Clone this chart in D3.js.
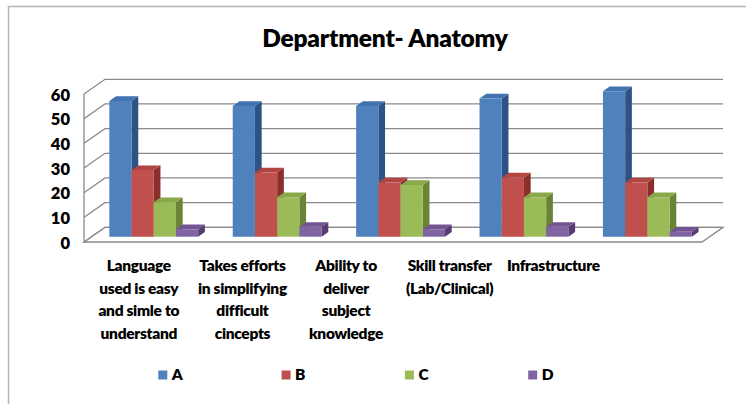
<!DOCTYPE html>
<html>
<head>
<meta charset="utf-8">
<script src="https://cdn.jsdelivr.net/npm/d3@7"></script>
<style>
  html, body { margin: 0; padding: 0; background: #fff; }
  svg { display: block; }
  text { font-family: Lato, "Open Sans", sans-serif; font-weight: 800; fill: #000; }
</style>
</head>
<body>
<svg id="chart" width="746" height="404"></svg>
<script>
// ---- data ----
const title = "Department- Anatomy";
const categories = [
  ["Language", "used is easy", "and simle to", "understand"],
  ["Takes efforts", "in simplifying", "difficult", "cincepts"],
  ["Ability to", "deliver", "subject", "knowledge"],
  ["Skill transfer", "(Lab/Clinical)"],
  ["Infrastructure"]
];
const seriesNames = ["A", "B", "C", "D"];
const seriesA = [55, 53, 53, 56, 59];
const seriesB = [27, 26, 22, 24, 22];
const seriesC = [14, 16, 21, 16, 16];
const seriesD = [3, 4, 3, 4, 2];
const yTicks = [0, 10, 20, 30, 40, 50, 60];

const series = [seriesA, seriesB, seriesC, seriesD];
const colors = [
  { front: "#4F81BD", top: "#4272B0", side: "#2E5283" },
  { front: "#C0504D", top: "#B24541", side: "#8B2F2C" },
  { front: "#9BBB59", top: "#89A84A", side: "#6A8436" },
  { front: "#8064A2", top: "#715593", side: "#553C73" }
];

// ---- layout ----
const W = 746, H = 404;
const svg = d3.select("#chart");
svg.append("rect").attr("width", W).attr("height", H).attr("fill", "#fff");

// frame (only top & left visible in reference)
svg.append("path").attr("d", `M8.5,${H} V6.5 H${W}`)
  .attr("fill", "none").attr("stroke", "#b4b4b4").attr("stroke-width", 1.5);

const DX = 21, DY = 14.7;          // full depth offset of the 3D box
const d0 = 0.36, d1 = 0.68;        // bar front/back depth fractions

const x = d3.scaleBand().domain(d3.range(categories.length))
  .range([84, 702]).paddingInner(0.28).paddingOuter(0.144);
const xs = d3.scaleBand().domain(d3.range(series.length))
  .range([0, x.bandwidth()]).padding(0);
const y = d3.scaleLinear().domain([0, 60]).range([242, 94]);

const P = (px, v, d) => [px + d * DX, y(v) - d * DY];
const line = d3.line();

const gridColor = "#8a8a8a";
const xL = x.range()[0], xR = x.range()[1];

// floor
svg.append("path")
  .attr("d", line([P(xL, 0, 0), P(xR, 0, 0), P(xR, 0, 1), P(xL, 0, 1)]) + "Z")
  .attr("fill", "#fff").attr("stroke", gridColor).attr("stroke-width", 1.3);

// gridlines on back wall + left wall
const grid = svg.append("g").attr("fill", "none").attr("stroke", gridColor).attr("stroke-width", 1.3);
yTicks.forEach(t => {
  grid.append("path").attr("d", line([P(xL, t, 0), P(xL, t, 1), P(xR, t, 1)]));
});
grid.append("path").attr("d", line([P(xL, 0, 0), P(xL, 60, 0)]));

// y-axis labels
svg.append("g").selectAll("text").data(yTicks).join("text")
  .attr("x", 70).attr("y", d => y(d) + 0.5)
  .attr("text-anchor", "end").attr("dominant-baseline", "central")
  .style("font-size", "16.5px").text(d => d);

// bars
const bars = svg.append("g");
categories.forEach((c, i) => {
  series.forEach((s, j) => {
    const v = s[i];
    const bx = x(i) + xs(j), bw = xs.bandwidth();
    const col = colors[j];
    const fTL = P(bx, v, d0), fTR = P(bx + bw, v, d0), fBR = P(bx + bw, 0, d0), fBL = P(bx, 0, d0);
    const bTL = P(bx, v, d1), bTR = P(bx + bw, v, d1), bBR = P(bx + bw, 0, d1);
    const g = bars.append("g");
    g.append("path").attr("d", line([fTR, bTR, bBR, fBR]) + "Z").attr("fill", col.side);
    g.append("path").attr("d", line([fTL, bTL, bTR, fTR]) + "Z").attr("fill", col.top);
    g.append("path").attr("d", line([fTL, fTR, fBR, fBL]) + "Z").attr("fill", col.front);
  });
});

// title
svg.append("text").attr("x", 385).attr("y", 47).attr("text-anchor", "middle")
  .style("font-size", "24.5px").style("letter-spacing", "-0.2px").text(title);

// category labels
const xl = d3.scalePoint().domain(d3.range(categories.length)).range([138.8, 553.3]);
const catG = svg.append("g").style("font-size", "15.5px").style("letter-spacing", "-0.3px")
  .attr("text-anchor", "middle");
categories.forEach((lines, i) => {
  lines.forEach((t, k) => {
    catG.append("text").attr("x", xl(i)).attr("y", 271 + k * 22.7).text(t);
  });
});

// legend
const lx = d3.scaleLinear().domain([0, 1]).range([158.3, 281.6]);
const leg = svg.append("g");
seriesNames.forEach((n, j) => {
  leg.append("rect").attr("x", lx(j)).attr("y", 370.5).attr("width", 9).attr("height", 9)
    .attr("fill", colors[j].front);
  leg.append("text").attr("x", lx(j) + 13.5).attr("y", 380)
    .style("font-size", "15.5px").text(n);
});
</script>
</body>
</html>
